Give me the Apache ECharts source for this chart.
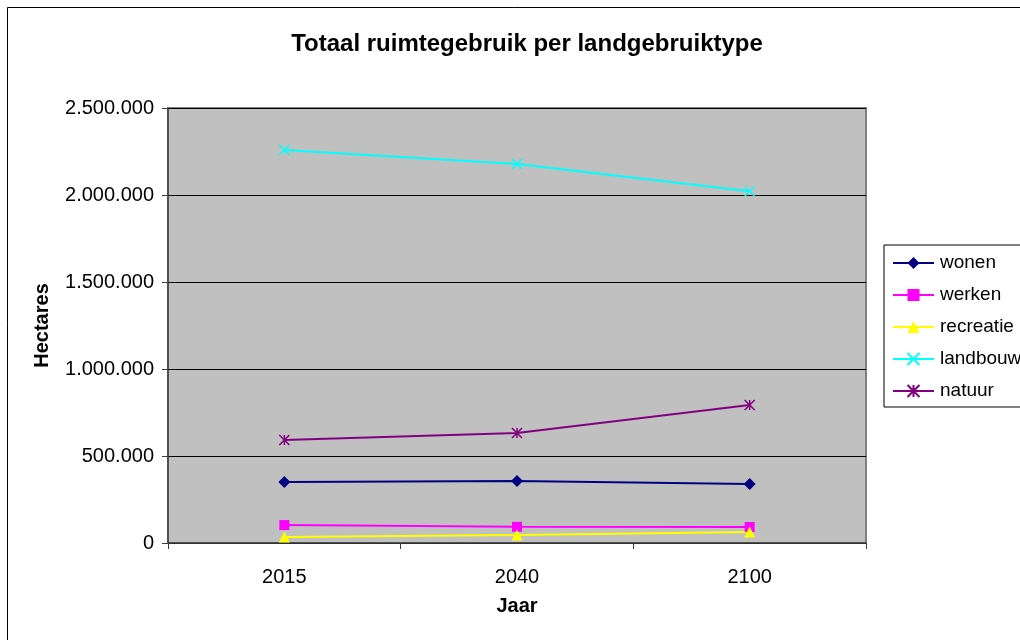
<!DOCTYPE html>
<html><head><meta charset="utf-8">
<script src="https://cdn.jsdelivr.net/npm/echarts@6/dist/echarts.min.js"></script>
<style>html,body{margin:0;padding:0;background:#fff}#c{width:1020px;height:640px}</style>
</head><body><div id="c"></div>
<script>
const categories = ['2015', '2040', '2100'];
const wonen = [351000, 356000, 339000];
const werken = [103000, 93000, 92000];
const recreatie = [34000, 46000, 63000];
const landbouw = [2259000, 2178000, 2022000];
const natuur = [592000, 632000, 793000];
const seriesNames = ['wonen', 'werken', 'recreatie', 'landbouw', 'natuur'];

function fmt(v){
  return String(Math.round(v)).replace(/\B(?=(\d{3})+(?!\d))/g, '.');
}
const FONT = 'Liberation Sans, Arial, sans-serif';
const xSym = 'path://M0,0L10,10M10,0L0,10';
const starSym = 'path://M0,0L10,10M10,0L0,10M5,0L5,10';
function mk(name, data, color, symbol, size){
  return {
    name, type: 'line', data, symbol, symbolSize: size,
    lineStyle: {color, width: 2},
    itemStyle: {color, borderColor: color, borderWidth: (symbol.startsWith('path') ? 1.5 : 0)},
    emphasis: {disabled: true}, animation: false
  };
}
const chart = echarts.init(document.getElementById('c'));
chart.setOption({
  animation: false,
  backgroundColor: '#fff',
  title: {text: 'Totaal ruimtegebruik per landgebruiktype', left: 522, top: 27, textAlign: 'center',
    textStyle: {fontFamily: FONT, fontSize: 24, fontWeight: 'bold', color: '#000'}},
  graphic: [{type: 'rect', shape: {x: 7.5, y: 7.5, width: 1040, height: 660}, style: {fill: 'none', stroke: '#000', lineWidth: 1}, silent: true}],
  legend: {
    orient: 'vertical', left: 884, top: 245,
    padding: [8, 60, 6, 8], itemGap: 12, itemWidth: 41, itemHeight: 15,
    borderColor: '#000', borderWidth: 1,
    textStyle: {fontFamily: FONT, fontSize: 19, color: '#000', lineHeight: 20, padding: [0, 0, 0, 1]},
    data: seriesNames
  },
  grid: {left: 168, top: 108, right: 154, bottom: 97, show: true, backgroundColor: '#C0C0C0', borderColor: '#808080', borderWidth: 2},
  xAxis: {
    type: 'category', data: categories, boundaryGap: true,
    name: 'Jaar', nameLocation: 'middle', nameGap: 53,
    nameTextStyle: {fontFamily: FONT, fontSize: 20, fontWeight: 'bold', color: '#000'},
    axisLine: {lineStyle: {color: '#404040', width: 1.5}},
    axisTick: {show: true, length: 6, lineStyle: {color: '#404040'}},
    axisLabel: {fontFamily: FONT, fontSize: 20, color: '#000', margin: 24}
  },
  yAxis: {
    type: 'value', min: 0, max: 2500000, interval: 500000,
    name: 'Hectares', nameLocation: 'middle', nameGap: 116, nameRotate: 90,
    nameTextStyle: {fontFamily: FONT, fontSize: 20, fontWeight: 'bold', color: '#000'},
    axisLine: {show: true, lineStyle: {color: '#404040', width: 1.5}},
    axisTick: {show: true, length: 6, lineStyle: {color: '#404040'}},
    splitLine: {show: true, lineStyle: {color: '#000', width: 1}},
    axisLabel: {fontFamily: FONT, fontSize: 20, color: '#000', margin: 14, formatter: fmt}
  },
  series: [
    mk('wonen', wonen, '#000080', 'diamond', 12),
    mk('werken', werken, '#FF00FF', 'rect', 10),
    mk('recreatie', recreatie, '#FFFF00', 'triangle', 11),
    mk('landbouw', landbouw, '#00FFFF', xSym, 10),
    mk('natuur', natuur, '#800080', starSym, 10)
  ]
});
</script></body></html>
